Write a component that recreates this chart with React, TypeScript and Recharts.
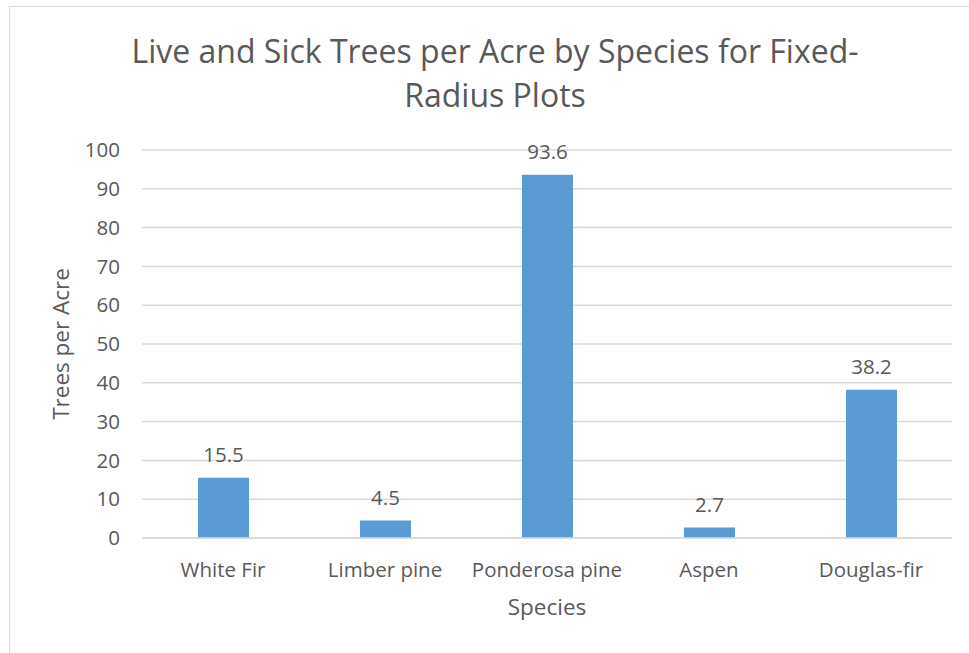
import { Bar, BarChart, CartesianGrid, LabelList, XAxis, YAxis } from "recharts";

const species = ["White Fir", "Limber pine", "Ponderosa pine", "Aspen", "Douglas-fir"];
const treesPerAcre = [15.5, 4.5, 93.6, 2.7, 38.2];
const yTicks = [0, 10, 20, 30, 40, 50, 60, 70, 80, 90, 100];

const data = species.map((name, i) => ({ name, value: treesPerAcre[i] }));

const grey = "#595959";
const font = "'Open Sans', sans-serif";

export default function App() {
  return (
    <div style={{ position: "absolute", left: 0, top: 0, width: 969, height: 653, background: "#fff", overflow: "hidden", fontFamily: font }}>
      <div style={{ position: "absolute", left: 9, top: 6, width: 980, height: 680, border: "1.5px solid #d9d9d9" }} />
      <div
        style={{
          position: "absolute",
          left: 45,
          width: 900,
          top: 29,
          textAlign: "center",
          color: grey,
          fontSize: 32,
          lineHeight: "44px",
        }}
      >
        Live and Sick Trees per Acre by Species for Fixed-
        <br />
        Radius Plots
      </div>
      <BarChart
        width={969}
        height={653}
        data={data}
        margin={{ top: 150, right: 17, left: 80, bottom: 70 }}
        style={{ position: "absolute", left: 0, top: 0 }}
      >
        <CartesianGrid vertical={false} stroke="#d9d9d9" strokeWidth={1.5} />
        <XAxis
          dataKey="name"
          height={45}
          axisLine={{ stroke: "#d9d9d9", strokeWidth: 1.5 }}
          tickLine={false}
          tick={{ fill: grey, fontSize: 20.5, fontFamily: font }}
          dy={16}
          label={{ value: "Species", position: "insideBottom", offset: -32, fill: grey, fontSize: 22.5, fontFamily: font }}
        />
        <YAxis
          width={62}
          domain={[0, 100]}
          ticks={yTicks}
          interval={0}
          axisLine={false}
          tickLine={false}
          tick={{ fill: grey, fontSize: 20.5, fontFamily: font }}
          dx={-14}
          label={{ value: "Trees per Acre", angle: -90, position: "insideLeft", offset: -19, fill: grey, fontSize: 22.5, fontFamily: font, style: { textAnchor: "middle" } }}
        />
        <Bar dataKey="value" fill="#5b9bd5" barSize={51} isAnimationActive={false}>
          <LabelList dataKey="value" position="top" offset={16} fill={grey} fontSize={20.5} fontFamily={font} />
        </Bar>
      </BarChart>
    </div>
  );
}
